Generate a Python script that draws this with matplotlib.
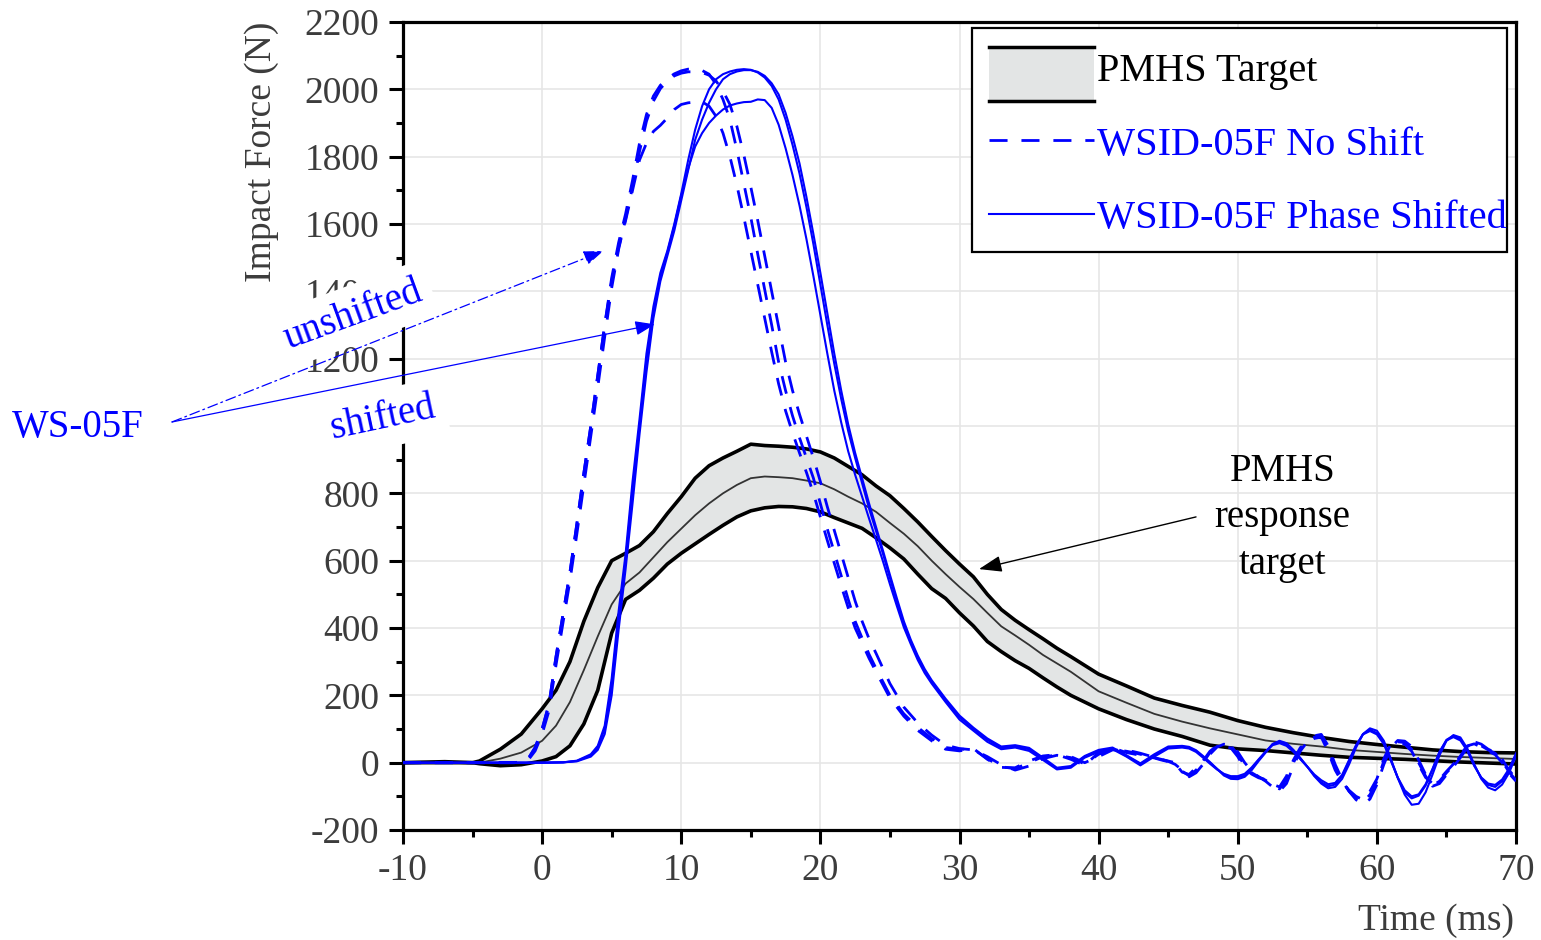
import numpy as np
import matplotlib
matplotlib.use('Agg')
import matplotlib.pyplot as plt
from matplotlib.ticker import MultipleLocator
from matplotlib.legend_handler import HandlerBase
from matplotlib.patches import Rectangle
from matplotlib.lines import Line2D

plt.rcParams['font.family'] = ['Liberation Serif', 'DejaVu Serif']
plt.rcParams['axes.unicode_minus'] = False

# ---------------- PMHS corridor (upper / mean / lower) ----------------
t_pmhs = [-10, -7, -5, -4.5, -3, -1.5, 0, 1, 2, 3, 4, 5, 6, 7, 8, 9, 10, 11, 12, 13,
          14, 15, 16, 17, 18, 19, 20, 21, 22, 23, 24, 25, 26, 27, 28, 29, 30, 31, 32, 33,
          34, 35, 36, 37, 38, 40, 42, 44, 46, 48, 50, 52, 54, 56, 58, 60, 62, 64, 66, 68, 70]
pmhs_upper = [0, 3, 0, 5, 40, 85, 160, 215, 300, 420, 520, 600, 622, 645, 686, 740, 790, 845, 882, 905,
              925, 946, 942, 940, 937, 932, 923, 905, 880, 855, 822, 793, 755, 715, 672, 630, 590, 552, 500, 455,
              423, 395, 368, 340, 315, 263, 228, 192, 170, 150, 125, 105, 89, 75, 63, 54, 46, 38, 33, 30, 29]
pmhs_mean = [0, 0, 0, 0, 12, 30, 65, 110, 180, 275, 375, 470, 532, 565, 610, 655, 695, 735, 770, 800,
             825, 845, 850, 848, 845, 838, 830, 812, 790, 770, 745, 712, 680, 643, 600, 560, 522, 486, 445, 405,
             378, 350, 320, 295, 270, 212, 178, 145, 122, 102, 84, 66, 56, 48, 38, 32, 26, 21, 17, 14, 11]
pmhs_lower = [0, 0, 0, -3, -9, -6, 5, 18, 50, 115, 215, 385, 485, 512, 548, 590, 622, 650, 678, 705,
              730, 748, 757, 761, 760, 755, 745, 728, 712, 696, 668, 638, 605, 560, 517, 488, 445, 406, 360, 330,
              303, 280, 252, 225, 200, 160, 128, 100, 78, 52, 41, 36, 29, 22, 16, 13, 10, 6, 2, -1, -4]

# ---------------- WSID-05F phase shifted (3 tests) ----------------
t_ps = np.concatenate([[-10, -5, 0, 1.5, 2.5, 3.5],
                       np.arange(4.0, 28.01, 0.5),
                       np.arange(29, 45.01, 1.0),
                       np.arange(46, 70.01, 0.5)])
ps_a = [0, 0, 0, 1, 6, 25,
        50, 110, 250, 450, 620, 835, 1020, 1215, 1355, 1455, 1520, 1600, 1690, 1790,
        1880, 1950, 2000, 2030, 2045, 2053, 2058, 2060, 2058, 2050, 2035, 2010, 1970, 1910,
        1835, 1750, 1650, 1540, 1420, 1300, 1185, 1080, 985, 905, 830, 755, 688, 620, 548,
        478, 412, 360, 312, 272, 240,
        185, 135, 100, 68, 44, 48, 40, 12, -18, -12, 18, 35, 42, 20, -4, 22, 45,
        48, 45, 35, 18, 0, -18, -35, -44, -44, -38, -18, 8, 32, 55, 63, 54, 35, 12, -12, -38,
        -58, -70, -65, -40, 5, 50, 85, 98, 88, 58, 8, -45, -88, -106, -98, -68, -20, 32, 68, 80,
        70, 38, -8, -45, -66, -72, -55, -22, 25]
ps_b = [0, 0, 0, 1, 4, 18,
        38, 85, 200, 395, 575, 770, 975, 1160, 1320, 1430, 1505, 1580, 1670, 1760,
        1850, 1910, 1960, 2000, 2030, 2045, 2053, 2057, 2057, 2052, 2040, 2018, 1985, 1930,
        1860, 1780, 1680, 1570, 1455, 1335, 1215, 1105, 1005, 920, 845, 770, 700, 630, 558,
        488, 420, 365, 318, 278, 245,
        190, 140, 104, 72, 48, 52, 44, 15, -15, -10, 20, 38, 45, 22, -2, 25, 48,
        50, 47, 37, 20, 2, -18, -38, -48, -49, -42, -22, 5, 30, 55, 65, 58, 38, 14, -12, -40,
        -62, -76, -72, -48, -5, 45, 85, 102, 95, 65, 12, -45, -95, -125, -122, -88, -35, 22, 65, 82,
        75, 42, -5, -48, -74, -82, -65, -30, 20]
ps_c = [0, 0, 0, 1, 5, 22,
        45, 100, 230, 430, 600, 810, 1000, 1195, 1340, 1445, 1515, 1595, 1685, 1765,
        1830, 1870, 1900, 1922, 1940, 1952, 1958, 1962, 1963, 1970, 1968, 1945, 1895, 1825,
        1745, 1655, 1555, 1445, 1330, 1215, 1105, 1010, 925, 855, 790, 725, 662, 598, 530,
        465, 402, 352, 305, 266, 235,
        180, 128, 95, 62, 40, 45, 35, 8, -20, -15, 15, 32, 40, 18, -8, 18, 42,
        45, 42, 32, 15, -3, -20, -33, -40, -40, -33, -14, 10, 33, 52, 58, 50, 32, 10, -12, -35,
        -52, -64, -60, -36, 8, 52, 84, 94, 84, 55, 6, -44, -82, -100, -94, -64, -18, 32, 66, 76,
        66, 35, -10, -44, -62, -66, -50, -18, 28]

# ---------------- WSID-05F no shift (3 tests) ----------------
t_ns = np.concatenate([[-10, -5, -2],
                       np.arange(-1.5, 24.01, 0.5),
                       np.arange(25, 42.01, 1.0),
                       np.arange(42.5, 70.01, 0.5)])
ns_a = [0, 0, 0, 3, 12, 45, 100, 175, 315, 440,
        565, 710, 860, 1000, 1150, 1300, 1440, 1545, 1630, 1730,
        1840, 1925, 1980, 2012, 2032, 2046, 2055, 2060, 2060, 2056,
        2045, 2015, 1970, 1910, 1820, 1720, 1620, 1510, 1405, 1300,
        1190, 1105, 1030, 965, 905, 845, 770, 694, 625, 555,
        485, 420, 370, 322, 280,
        200, 145, 105, 72, 45, 40, 40, 12, -12, -18, 0, 18, 22, 15, -4, 25, 40, 34,
        30, 25, 20, 15, 10, 5, 0, -25, -39, -22, 0, 30, 48, 52, 50, 25, -10, -30, -42, -52,
        -68, -78, -50, 0, 40, 62, 76, 80, 40, -15, -55, -85, -105, -118, -95, -55, 5, 50, 62, 60,
        40, 0, -40, -68, -55, -30, -8, 20, 48, 60, 50, 38, 28, 5, -28, -52]
ns_b = [0, 0, 0, 2, 8, 35, 85, 155, 290, 415,
        540, 680, 825, 970, 1115, 1265, 1410, 1525, 1615, 1710,
        1815, 1905, 1965, 2002, 2025, 2040, 2048, 2052, 2052, 2050,
        2042, 2025, 1995, 1955, 1890, 1805, 1710, 1610, 1505, 1400,
        1295, 1190, 1105, 1035, 970, 905, 835, 760, 690, 620,
        550, 480, 420, 368, 325,
        235, 165, 118, 82, 52, 42, 38, 18, -6, -22, -10, 12, 22, 18, 0, 18, 38, 36,
        33, 28, 22, 16, 10, 4, -5, -22, -42, -30, -5, 25, 46, 55, 52, 32, 0, -25, -42, -55,
        -72, -85, -62, -10, 35, 62, 80, 84, 50, -5, -50, -85, -110, -125, -108, -65, -5, 45, 66, 64,
        48, 8, -35, -70, -62, -36, -12, 15, 45, 62, 55, 40, 30, 10, -22, -48]
ns_c = [0, 0, 0, 3, 12, 45, 100, 175, 315, 440,
        565, 710, 860, 1000, 1150, 1300, 1430, 1530, 1610, 1700,
        1790, 1840, 1875, 1893, 1915, 1940, 1955, 1960, 1962, 1963,
        1950, 1920, 1870, 1800, 1715, 1620, 1520, 1420, 1320, 1220,
        1125, 1045, 980, 920, 862, 800, 730, 660, 592, 525,
        460, 400, 355, 310, 270,
        192, 138, 96, 65, 40, 35, 42, 10, -14, -15, 5, 20, 24, 10, -8, 30, 44, 30,
        26, 22, 18, 14, 8, 3, -3, -28, -35, -15, 5, 34, 50, 48, 44, 18, -18, -34, -45, -50,
        -64, -72, -40, 8, 45, 60, 72, 76, 32, -22, -58, -82, -100, -110, -85, -48, 12, 55, 58, 55,
        34, -6, -44, -62, -50, -26, -4, 24, 50, 56, 46, 34, 24, 0, -32, -55]

legend_labels = ['PMHS Target', 'WSID-05F No Shift', 'WSID-05F Phase Shifted']

blue = '#0000ff'
gray_txt = '#3c3c3c'
fill_col = '#e3e5e5'
dash_style = (0, (6.5, 5.0))


class CorridorHandler(HandlerBase):
    # grey band with black bounds, drawn taller than the text row
    def create_artists(self, legend, orig_handle, xdescent, ydescent,
                       width, height, fontsize, trans):
        half = 0.68 * fontsize
        yc = height / 2 - ydescent - 0.18 * fontsize
        y0, y1 = yc - half, yc + half
        rect = Rectangle((-xdescent, y0), width, y1 - y0, facecolor=fill_col,
                         edgecolor='none', transform=trans)
        top = Line2D([-xdescent, width - xdescent], [y1, y1], color='k', lw=2.5, transform=trans)
        bot = Line2D([-xdescent, width - xdescent], [y0, y0], color='k', lw=2.5, transform=trans)
        return [rect, top, bot]


fig = plt.figure(figsize=(15.41, 9.40), dpi=100)
ax = fig.add_axes([0.2615, 0.117, 0.7223, 0.8596])

ax.fill_between(t_pmhs, pmhs_lower, pmhs_upper, color=fill_col, lw=0, zorder=2)
ax.plot(t_pmhs, pmhs_upper, color='k', lw=2.6, zorder=3, solid_joinstyle='round')
ax.plot(t_pmhs, pmhs_lower, color='k', lw=2.6, zorder=3, solid_joinstyle='round')
ax.plot(t_pmhs, pmhs_mean, color='#333333', lw=1.3, zorder=3, solid_joinstyle='round')

for ys in (ns_a, ns_b, ns_c):
    ax.plot(t_ns, ys, color=blue, lw=2.0, ls=dash_style, zorder=4)
for ys in (ps_a, ps_b, ps_c):
    ax.plot(t_ps, ys, color=blue, lw=1.5, zorder=4, solid_joinstyle='round')

ax.set_xlim(-10, 70)
ax.set_ylim(-200, 2200)
ax.xaxis.set_major_locator(MultipleLocator(10))
ax.xaxis.set_minor_locator(MultipleLocator(5))
ax.yaxis.set_major_locator(MultipleLocator(200))
ax.yaxis.set_minor_locator(MultipleLocator(100))
ax.tick_params(which='major', direction='out', length=10, width=2.2, labelsize=27,
               labelcolor=gray_txt, pad=7)
ax.tick_params(which='minor', direction='out', length=5, width=2.2)
for s in ax.spines.values():
    s.set_linewidth(2.3)
ax.set_axisbelow(True)
ax.grid(True, which='major', color='#e6e6e6', lw=1.2)

ax.set_ylabel('Impact Force (N)', fontsize=27, color=gray_txt, loc='top')
ax.yaxis.set_label_coords(-0.111, 1.0)
ax.set_xlabel('Time (ms)', fontsize=27, color=gray_txt, loc='right')
ax.xaxis.set_label_coords(0.998, -0.091)

# legend: frame drawn separately so the box size matches the original
ax.add_patch(Rectangle((0.5112, 0.7153), 0.4807, 0.2772, transform=ax.transAxes,
                       facecolor='white', edgecolor='k', lw=1.6, zorder=19, clip_on=False))
proxy_band = Rectangle((0, 0), 1, 1)
h_ns = Line2D([], [], color=blue, lw=2.0, ls=dash_style)
h_ps = Line2D([], [], color=blue, lw=1.5)
leg = ax.legend([proxy_band, h_ns, h_ps], legend_labels,
                handler_map={proxy_band: CorridorHandler()},
                loc='upper right', bbox_to_anchor=(0.9915, 0.962), borderaxespad=0,
                fontsize=29, handlelength=2.6, handletextpad=0.08, labelspacing=0.906,
                borderpad=0, frameon=False)
for txt, c in zip(leg.get_texts(), ['k', blue, blue]):
    txt.set_color(c)
leg.set_zorder(20)

# annotations
ax.text(53.2, 727, 'PMHS\nresponse\ntarget', fontsize=28, ha='center', va='center',
        linespacing=1.33, zorder=6)
ax.annotate('', xy=(31.4, 575), xytext=(47.0, 730),
            arrowprops=dict(arrowstyle='-|>,head_length=0.7,head_width=0.25',
                            mutation_scale=20, color='k', lw=1.0, shrinkA=0, shrinkB=0),
            zorder=6)

ax.text(-13.6, 1330, 'unshifted', fontsize=28, color=blue, rotation=20,
        ha='center', va='center', rotation_mode='anchor', clip_on=False, zorder=10,
        bbox=dict(boxstyle='square,pad=0.27', fc='white', ec='none'))
ax.text(-7.7, 1055, '  shifted', fontsize=28, color=blue, rotation=12,
        ha='right', va='center', rotation_mode='anchor', clip_on=False, zorder=10,
        bbox=dict(boxstyle='square,pad=0.27', fc='white', ec='none'))
ax.text(-38.1, 997, 'WS-05F', fontsize=28, color=blue, ha='left', va='center',
        clip_on=False, zorder=10)
ax.annotate('', xy=(4.4, 1520), xytext=(-26.6, 1012), annotation_clip=False,
            arrowprops=dict(arrowstyle='-|>,head_length=0.6,head_width=0.22',
                            mutation_scale=20, color=blue, lw=0.9, ls=(0, (8, 3, 1.5, 3)),
                            shrinkA=0, shrinkB=0),
            zorder=11)
ax.annotate('', xy=(8.1, 1302), xytext=(-26.6, 1012), annotation_clip=False,
            arrowprops=dict(arrowstyle='-|>,head_length=0.6,head_width=0.22',
                            mutation_scale=20, color=blue, lw=0.9,
                            shrinkA=0, shrinkB=0),
            zorder=11)

fig.savefig('out.png', dpi=100)
